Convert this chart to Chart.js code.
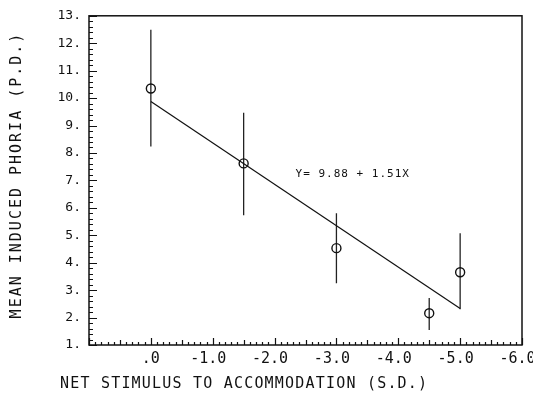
<!DOCTYPE html>
<html>
<head>
<meta charset="utf-8">
<script src="https://cdn.jsdelivr.net/npm/chart.js@4/dist/chart.umd.min.js"></script>
<style>
  html, body { margin: 0; padding: 0; background: #fff; }
  #wrap { width: 533px; height: 400px; }
</style>
</head>
<body>
<div id="wrap"><canvas id="myChart"></canvas></div>
<script>
// values
let stimulus = [0, -1.5, -3.0, -4.5, -5.0];
let phoria = [10.35, 7.62, 4.53, 2.16, 3.65];
let barTop = [12.49, 9.47, 5.80, 2.71, 5.07];
let barBottom = [8.24, 5.73, 3.25, 1.55, 2.30];
let fitX = [0, -5.0];
let fitY = [9.88, 2.33];
let equationText = 'Y= 9.88 + 1.51X';
let equationAt = [-2.34, 7.22];
let xTitle = 'NET STIMULUS TO ACCOMMODATION (S.D.)';
let yTitle = 'MEAN INDUCED PHORIA (P.D.)';

let ink = '#111';
let mono = "'DejaVu Sans Mono', monospace";

let errorBars = [];
stimulus.forEach((x, i) => {
  errorBars.push({x: x, y: barBottom[i]}, {x: x, y: barTop[i]}, {x: x, y: null});
});

// frame, inward ticks, equation and axis titles
let plotterPlugin = {
  id: 'plotter',
  beforeDatasetsDraw(chart) {
    let ctx = chart.ctx;
    let a = chart.chartArea;
    let xs = chart.scales.x, ys = chart.scales.y;
    ctx.save();
    ctx.strokeStyle = ink;
    ctx.lineWidth = 1.5;
    ctx.strokeRect(a.left, a.top, a.right - a.left, a.bottom - a.top);
    ctx.lineWidth = 1.2;
    ctx.beginPath();
    for (let k = 10; k <= 130; k += 2) {
      let py = Math.round(ys.getPixelForValue(k / 10)) + 0.5;
      let len = k % 10 === 0 ? 8 : 4;
      ctx.moveTo(a.left, py);
      ctx.lineTo(a.left + len, py);
    }
    for (let k = -60; k <= 10; k++) {
      let px = Math.round(xs.getPixelForValue(k / 10)) + 0.5;
      let len = k % 10 === 0 ? 7 : (k % 5 === 0 ? 5 : 3);
      ctx.moveTo(px, a.bottom);
      ctx.lineTo(px, a.bottom - len);
    }
    ctx.stroke();
    ctx.restore();
  },
  afterDraw(chart) {
    let ctx = chart.ctx;
    let xs = chart.scales.x, ys = chart.scales.y;
    ctx.save();
    ctx.fillStyle = ink;
    ctx.textBaseline = 'middle';
    ctx.textAlign = 'left';
    ctx.font = '11px ' + mono;
    ctx.letterSpacing = '1px';
    ctx.fillText(equationText, xs.getPixelForValue(equationAt[0]), ys.getPixelForValue(equationAt[1]));
    ctx.font = '15px ' + mono;
    ctx.letterSpacing = '1.2px';
    ctx.fillText(xTitle, 60, 384);
    ctx.translate(17, 175);
    ctx.rotate(-Math.PI / 2);
    ctx.textAlign = 'center';
    ctx.letterSpacing = '2px';
    ctx.fillText(yTitle, 0, 0);
    ctx.restore();
  }
};

let ctx = document.getElementById('myChart').getContext('2d');
let myChart = new Chart(ctx, {
  type: 'scatter',
  data: {
    datasets: [
      {
        data: stimulus.map((x, i) => ({x: x, y: phoria[i]})),
        pointStyle: 'circle',
        pointRadius: 4.5,
        pointBorderWidth: 1.4,
        pointBorderColor: ink,
        pointBackgroundColor: 'rgba(0,0,0,0)',
        showLine: false
      },
      {
        data: fitX.map((x, i) => ({x: x, y: fitY[i]})),
        showLine: true,
        borderColor: ink,
        borderWidth: 1.2,
        pointRadius: 0
      },
      {
        data: errorBars,
        showLine: true,
        spanGaps: false,
        borderColor: '#222',
        borderWidth: 1.3,
        pointRadius: 0
      }
    ]
  },
  options: {
    responsive: true,
    maintainAspectRatio: false,
    animation: false,
    layout: { padding: { top: 15, right: 11, left: 0, bottom: 0 } },
    plugins: {
      legend: { display: false },
      tooltip: { enabled: false }
    },
    scales: {
      x: {
        type: 'linear',
        min: -6,
        max: 1,
        reverse: true,
        grid: { display: false, drawTicks: false },
        border: { display: false },
        ticks: {
          stepSize: 1,
          color: ink,
          padding: 5,
          maxRotation: 0,
          autoSkip: false,
          font: { family: mono, size: 15 },
          callback: (v) => {
            if (v > 0) return '';
            if (v === 0) return '.0';
            return v.toFixed(1) + ' ';
          }
        },
        afterFit: (scale) => {
          scale.height = 55;
          scale.paddingLeft = 0;
          scale.paddingRight = 0;
        }
      },
      y: {
        type: 'linear',
        min: 1,
        max: 13,
        grid: { display: false, drawTicks: false },
        border: { display: false },
        ticks: {
          stepSize: 1,
          color: ink,
          padding: 8,
          font: { family: mono, size: 13 },
          callback: (v) => v + '.'
        },
        afterFit: (scale) => {
          scale.width = 89;
        }
      }
    }
  },
  plugins: [plotterPlugin]
});
</script>
</body>
</html>
